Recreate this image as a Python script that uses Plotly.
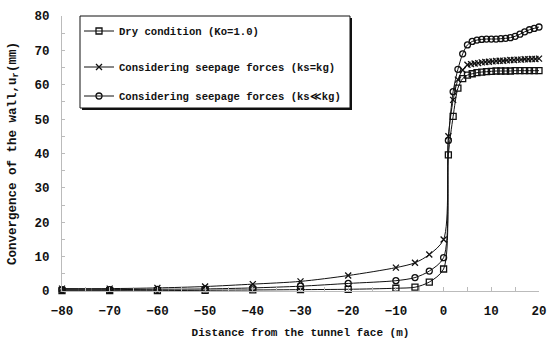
import plotly.graph_objects as go

# distance from tunnel face (m)
dist_dry = [-80, -70, -60, -50, -40, -30, -20, -10, -6, -3, 0, 1, 2, 3, 4, 5, 6, 7, 8, 9, 10,
            11, 12, 13, 14, 15, 16, 17, 18, 19, 20]
u_dry = [0.1, 0.1, 0.1, 0.2, 0.3, 0.4, 0.5, 0.8, 1.1, 2.6, 6.4, 39.6, 50.8, 59.0, 61.8, 62.8,
         63.2, 63.5, 63.7, 63.8, 63.9, 64.0, 64.0, 64.0, 64.0, 64.1, 64.1, 64.1, 64.1, 64.1, 64.1]

dist_eq = [-80, -70, -60, -50, -40, -30, -20, -10, -6, -3, 0, 1, 2, 3, 4,
           5, 5.75, 6.5, 7.25, 8, 8.75, 9.5, 10.25, 11, 11.75, 12.5, 13.25, 14, 14.75,
           15.5, 16.25, 17, 17.75, 18.5, 19.25, 20]
u_eq = [0.7, 0.7, 0.9, 1.3, 2.0, 2.8, 4.5, 6.8, 8.2, 10.6, 15.0, 45.0, 55.6, 61.5, 64.3,
        65.8, 66.0, 66.2, 66.3, 66.5, 66.6, 66.7, 66.8, 66.9, 67.0, 67.0, 67.1, 67.2, 67.2,
        67.3, 67.3, 67.4, 67.4, 67.5, 67.5, 67.6]

dist_low = [-80, -70, -60, -50, -40, -30, -20, -10, -6, -3, 0, 1, 2, 3, 4, 5, 6, 7, 8, 9, 10,
            11, 12, 13, 14, 15, 16, 17, 18, 19, 20]
u_low = [0.4, 0.4, 0.5, 0.6, 0.9, 1.4, 2.2, 3.0, 3.9, 5.8, 9.7, 43.8, 58.0, 64.5, 69.0, 71.6,
         72.6, 73.0, 73.2, 73.3, 73.3, 73.3, 73.4, 73.5, 73.7, 74.1, 74.7, 75.4, 76.0, 76.4, 76.8]

names = ["Dry condition (Ko=1.0)",
         "Considering seepage forces (ks=kg)",
         "Considering seepage forces (ks≪kg)"]

FONT = "Liberation Mono"
W, H = 547, 339
ML, MR, MT, MB = 62, 8, 16, 48
PW, PH = W - ML - MR, H - MT - MB


def py(pix):  # pixel y -> paper y
    return (H - MB - pix) / PH


def px(pix):  # pixel x -> paper x
    return (pix - ML) / PW


fig = go.Figure()
series = [(dist_dry, u_dry, "square-open", 6, "legend"),
          (dist_eq, u_eq, "x-thin-open", 6, "legend2"),
          (dist_low, u_low, "circle-open", 6, "legend3")]
for (x, y, sym, sz, lg), nm in zip(series, names):
    fig.add_trace(go.Scatter(
        x=x, y=y, name="<b>" + nm + "</b>", mode="lines+markers",
        line=dict(color="#111", width=1, shape="spline", smoothing=0.8),
        marker=dict(symbol=sym, size=sz, color="#111", line=dict(width=1.3, color="#111")),
        cliponaxis=False, legend=lg))

# legend box with shadow
bx0, bx1, by0, by1 = 80, 350, 16, 108
fig.add_shape(type="rect", xref="paper", yref="paper",
              x0=px(bx0 + 2), x1=px(bx1 + 2), y0=py(by1 + 2), y1=py(by0 + 2),
              line=dict(width=0), fillcolor="#111", layer="above")
fig.add_shape(type="rect", xref="paper", yref="paper",
              x0=px(bx0), x1=px(bx1), y0=py(by1), y1=py(by0),
              line=dict(width=1, color="#111"), fillcolor="white", layer="above")

leg_common = dict(font=dict(family=FONT, size=10.6, color="#111"), bgcolor="rgba(0,0,0,0)",
                  borderwidth=0, xanchor="left", yanchor="middle", itemwidth=30)
rows = [31, 67, 96]
lx = 79

fig.update_layout(
    width=W, height=H, margin=dict(l=ML, r=MR, t=MT, b=MB, autoexpand=False),
    paper_bgcolor="white", plot_bgcolor="white",
    showlegend=True,
    legend=dict(x=px(lx), y=py(rows[0]), **leg_common),
    legend2=dict(x=px(lx), y=py(rows[1]), **leg_common),
    legend3=dict(x=px(lx), y=py(rows[2]), **leg_common),
    xaxis=dict(range=[-80, 20], dtick=10, tick0=-80, showgrid=False, zeroline=False,
               automargin=False,
               showline=True, linecolor="#bbb", linewidth=1,
               ticks="inside", ticklen=4, tickcolor="#bbb",
               minor=dict(dtick=5, ticks="inside", ticklen=4, tickcolor="#bbb"),
               ticklabelstandoff=8, tickprefix="<b>", ticksuffix="</b>",
               tickfont=dict(family=FONT, size=12.5, color="#111"),
               title=dict(text="<b>Distance from the tunnel face (m)</b>", standoff=22,
                          font=dict(family=FONT, size=11, color="#111"))),
    yaxis=dict(range=[0, 80], dtick=10, showgrid=False, zeroline=False,
               automargin=False,
               showline=True, linecolor="#bbb", linewidth=1,
               ticks="inside", ticklen=3, tickcolor="#bbb",
               minor=dict(dtick=5, ticks="inside", ticklen=3, tickcolor="#bbb"),
               ticklabelstandoff=9, tickprefix="<b>", ticksuffix="</b>",
               tickfont=dict(family=FONT, size=12.5, color="#111"),
               title=dict(text="<b>Convergence of the wall,u<sub>r</sub>(mm)</b>", standoff=15,
                          font=dict(family=FONT, size=12.5, color="#111"))),
)

fig.write_html("out.html")
